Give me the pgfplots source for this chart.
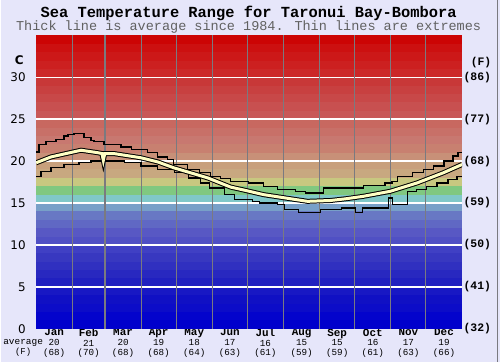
\documentclass[border=0pt]{standalone}
\usepackage{pgfplots}
\usepackage{pgfplotstable}
\pgfplotsset{compat=1.18}
\usepackage{fontspec}
\setmainfont{DejaVu Sans}
\newfontfamily\mono{Liberation Mono}
\definecolor{bg}{HTML}{E6E6FA}
\definecolor{cream}{HTML}{FFFFC4}
\definecolor{monthsep}{HTML}{7A7A80}
\definecolor{band0}{HTML}{0000CC}
\definecolor{band1}{HTML}{0404CC}
\definecolor{band2}{HTML}{0C0CC8}
\definecolor{band3}{HTML}{1010C4}
\definecolor{band4}{HTML}{1818C4}
\definecolor{band5}{HTML}{2020C0}
\definecolor{band6}{HTML}{2828C0}
\definecolor{band7}{HTML}{3030C0}
\definecolor{band8}{HTML}{3838C0}
\definecolor{band9}{HTML}{4040C4}
\definecolor{band10}{HTML}{5050C4}
\definecolor{band11}{HTML}{5858C4}
\definecolor{band12}{HTML}{6068C4}
\definecolor{band13}{HTML}{6878C4}
\definecolor{band14}{HTML}{78A0C8}
\definecolor{band15}{HTML}{80C8C8}
\definecolor{band16}{HTML}{80C880}
\definecolor{band17}{HTML}{C8C880}
\definecolor{band18}{HTML}{C8A880}
\definecolor{band19}{HTML}{C8A07C}
\definecolor{band20}{HTML}{C89078}
\definecolor{band21}{HTML}{C88070}
\definecolor{band22}{HTML}{C87870}
\definecolor{band23}{HTML}{C87068}
\definecolor{band24}{HTML}{C86860}
\definecolor{band25}{HTML}{C85858}
\definecolor{band26}{HTML}{C85050}
\definecolor{band27}{HTML}{C84848}
\definecolor{band28}{HTML}{C84040}
\definecolor{band29}{HTML}{C83838}
\definecolor{band30}{HTML}{CC2828}
\definecolor{band31}{HTML}{CC2020}
\definecolor{band32}{HTML}{CC1818}
\definecolor{band33}{HTML}{CC1010}
\definecolor{band34}{HTML}{CC0404}

\pgfplotstableread{
day temp
0 19.8
12.8 20.5
25.6 20.9
38.5 21.3
53 21.0
56.4 20.9
57.6 20.1
58.8 20.9
66.7 20.9
89.8 20.4
104.3 19.9
118 19.2
132.5 18.6
147 18.0
166.7 16.9
179.5 16.5
194.9 16.0
213.7 15.6
232.5 15.2
252.2 15.3
265 15.5
280.4 15.8
303.5 16.4
326.5 17.4
348.8 18.6
365 19.6
}\avgdata

\pgfplotstableread{
day temp
0 21.1
2.6 22.0
8.5 22.3
17.1 22.6
23.9 23.0
27.4 23.2
32.5 23.3
41 22.8
47 22.5
49.6 22.3
58.1 22.0
72.7 21.7
82 21.4
95.7 21.0
104.3 20.5
112.8 20.2
118 19.6
130 19.0
140.2 18.6
149.6 18.2
158 17.9
166.7 17.6
182 17.4
194.9 17.0
206.9 16.6
222.3 16.4
230.8 16.2
246.2 16.8
265 16.8
280.4 17.1
299 17.4
305 17.6
309.4 18.2
322.3 18.6
331.7 19.0
340.2 19.4
349.6 20.0
357.3 20.6
361.6 21.0
365 21.0
}\maxdata

\pgfplotstableread{
day temp
0 18.2
4.3 18.8
12.8 19.2
23.9 19.6
36.8 19.8
47 20.0
76 19.8
89.8 19.4
104.3 19.0
118.8 18.6
130.8 18.0
141 17.4
148.7 16.8
161.6 16.0
170.1 15.4
185.5 15.2
191.5 15.0
206.9 14.8
212.8 14.2
224.8 13.9
243.6 14.2
261.6 14.4
273.5 13.9
279.5 14.4
293.2 14.4
301.7 15.6
305.2 14.8
318 16.4
325.7 16.6
334.2 17.0
343.6 17.4
353 17.8
360.7 18.2
365 18.2
}\mindata

\newcommand{\ml}[3]{{\fontsize{11}{9.6}\selectfont\bfseries #1}\\#2\\(#3)}

\begin{document}
\begin{tikzpicture}
\fill[bg] (0,0) rectangle (500bp,362bp);
\draw[monthsep, line width=1bp] (497.5bp,0) -- (497.5bp,362bp);
\node[font=\mono\bfseries\fontsize{15.5}{16}\selectfont] at (248bp,349.5bp) {Sea Temperature Range for Taronui Bay-Bombora};
\node[font=\mono\fontsize{13.6}{14}\selectfont, text=black!62] at (248bp,335bp) {Thick line is average since 1984. Thin lines are extremes};
\node[font=\fontsize{12}{12}\selectfont\bfseries] at (18bp,302bp) {C};
\node[font=\mono\bfseries\fontsize{11.5}{12}\selectfont] at (481bp,300bp) {(F)};
\node[font=\mono\fontsize{9.5}{10}\selectfont] at (22bp,18.5bp) {average};
\node[font=\mono\fontsize{9}{10}\selectfont] at (22bp,9.5bp) {(F)};
\begin{axis}[
  at={(35bp,33bp)}, anchor=south west,
  scale only axis, width=427bp, height=294bp,
  xmin=0, xmax=365, ymin=0, ymax=35,
  axis line style={draw=none},
  major tick length=0pt,
  no markers,
  ytick={0,5,10,15,20,25,30},
  yticklabels={0,5,10,15,20,25,30},
  yticklabel style={font=\fontsize{12}{12}\selectfont, xshift=-7bp},
  xtick={15.5,45,74.5,105,135.5,166,196.5,227.5,258,288.5,319,349.5},
  xticklabels={\ml{Jan}{20}{68},\ml{Feb}{21}{70},\ml{Mar}{20}{68},\ml{Apr}{19}{68},\ml{May}{18}{64},\ml{Jun}{17}{63},\ml{Jul}{16}{61},\ml{Aug}{15}{59},\ml{Sep}{15}{59},\ml{Oct}{16}{61},\ml{Nov}{17}{63},\ml{Dec}{19}{66}},
  xticklabel style={align=center, font=\mono\fontsize{9.3}{9.6}\selectfont, yshift=3.5bp},
]
\pgfplotsforeachungrouped \i in {0,...,34}{%
  \pgfmathtruncatemacro\j{\i+1}%
  \edef\temp{\noexpand\addplot[fill=band\i, draw=none, forget plot] coordinates {(0,\i) (365,\i) (365,\j) (0,\j)};}%
  \temp
}
\pgfplotsforeachungrouped \y in {5,10,15,20,25,30}{%
  \edef\temp{\noexpand\addplot[draw=white, line width=1.6bp, forget plot] coordinates {(0,\y) (365,\y)};}%
  \temp
}
\pgfplotsforeachungrouped \x in {31,59,90,120,151,181,212,243,273,304,334}{%
  \edef\temp{\noexpand\addplot[draw=monthsep, line width=1.1bp, forget plot] coordinates {(\x,0) (\x,35)};}%
  \temp
}
\addplot[black, line width=1.3bp, const plot] table[x=day, y=temp] {\maxdata};
\addplot[black, line width=1.3bp, const plot] table[x=day, y=temp] {\mindata};
\addplot[black, line width=5bp] table[x=day, y=temp] {\avgdata};
\addplot[cream, line width=3bp] table[x=day, y=temp] {\avgdata};
\end{axis}
\begin{axis}[
  at={(35bp,33bp)}, anchor=south west,
  scale only axis, width=427bp, height=294bp,
  xmin=0, xmax=365, ymin=0, ymax=35,
  axis line style={draw=none},
  major tick length=0pt,
  axis y line*=right, hide x axis,
  ytick={0,5,10,15,20,25,30},
  yticklabels={(32),(41),(50),(59),(68),(77),(86)},
  yticklabel style={font=\mono\bfseries\fontsize{11.5}{12}\selectfont, xshift=-2bp},
]
\addplot[draw=none, forget plot] coordinates {(0,0)};
\end{axis}
\end{tikzpicture}
\end{document}
